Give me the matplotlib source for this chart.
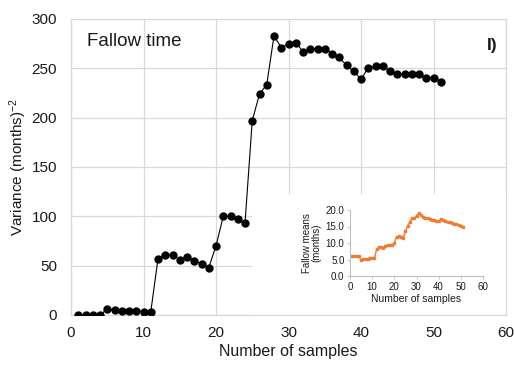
import matplotlib
matplotlib.use("Agg")
import matplotlib.pyplot as plt
from matplotlib.patches import Rectangle

plt.rcParams['font.family'] = ['Liberation Sans', 'DejaVu Sans']
plt.rcParams['mathtext.fontset'] = 'custom'
plt.rcParams['mathtext.rm'] = 'Liberation Sans'
plt.rcParams['mathtext.default'] = 'regular'

# Variance of fallow time as samples accumulate
samples = list(range(1, 52))
variance = [0, 0, 0, 0, 6, 5, 4.4, 4.4, 4.4, 3.4, 3,
            57, 61, 61, 56, 59, 55, 52, 48,
            70, 100, 100, 97.6, 93,
            197, 224, 233.5, 283, 271, 274.5, 276,
            267, 269.5, 270, 270, 265, 261, 253, 247, 239,
            250.5, 252, 252, 247.5, 244, 244, 244, 244, 240.5, 240.5, 236.5]

# Running mean of fallow time (inset)
fallow_means = [6.0, 6.0, 6.0, 6.0, 4.85, 5.05, 5.25, 5.25, 5.45, 5.45, 5.45,
                8.1, 8.7, 8.7, 8.4, 9.2, 9.3, 9.3, 9.3,
                10.1, 11.9, 12.0, 11.7, 11.4,
                13.6, 15.2, 16.5, 17.5, 17.5, 18.3, 19.0,
                18.5, 17.9, 17.7, 17.5, 17.3, 17.1, 16.9, 16.8, 16.6,
                17.3, 16.9, 16.7, 16.5, 16.3, 16.1, 15.9, 15.7, 15.4, 15.1, 14.7]

x_ticks = [0, 10, 20, 30, 40, 50, 60]
y_ticks = [0, 50, 100, 150, 200, 250, 300]
inset_y_ticks = [0.0, 5.0, 10.0, 15.0, 20.0]

grid_col = '#D9D9D9'
text_col = '#1a1a1a'

fig = plt.figure(figsize=(5.14, 3.66), dpi=100)
ax = fig.add_axes([71/514, 1 - 315/366, 435/514, 296/366])

ax.plot(samples, variance, color='black', lw=0.8, marker='o',
        markersize=5.0, zorder=3)
ax.set_xlim(0, 60)
ax.set_ylim(0, 300)
ax.set_xticks(x_ticks)
ax.set_yticks(y_ticks)
ax.tick_params(length=0, labelsize=11, colors=text_col)
ax.tick_params(axis='y', pad=10)
ax.tick_params(axis='x', pad=8)
ax.set_axisbelow(True)
ax.grid(True, color=grid_col, lw=0.9)
for s in ax.spines.values():
    s.set_color(grid_col)
    s.set_linewidth(0.9)
ax.set_xlabel('Number of samples', fontsize=11.5, color=text_col, labelpad=3)
ax.set_ylabel('Variance (months)$^{-2}$', fontsize=11, color=text_col,
              labelpad=2)
ax.text(0.036, 0.925, 'Fallow time', transform=ax.transAxes, fontsize=13.5,
        color=text_col, va='center', ha='left')
ax.text(0.955, 0.91, 'I)', transform=ax.transAxes, fontsize=12.5,
        fontweight='bold', color=text_col, va='center', ha='left')

# white panel that hosts the inset
ax.add_patch(Rectangle(((252 - 71) / 435, 0), 1 - (252 - 71) / 435,
                       (315 - 194) / 296, transform=ax.transAxes,
                       facecolor='white', edgecolor='none', zorder=1.5))

ins = fig.add_axes([350/514, 1 - 276/366, 133/514, 66/366])
ins.patch.set_alpha(0)
ins.plot(samples, fallow_means, color='#ED7D31', lw=1.0, marker='s',
         markersize=1.6)
ins.set_xlim(0, 60)
ins.set_ylim(0, 20)
ins.set_xticks(x_ticks)
ins.set_yticks(inset_y_ticks)
ins.set_yticklabels([f'{v:.1f}' for v in inset_y_ticks])
ins.tick_params(labelsize=7, colors=text_col, length=2, width=0.6,
                pad=2, color='#BFBFBF')
for side in ('top', 'right'):
    ins.spines[side].set_visible(False)
for side in ('left', 'bottom'):
    ins.spines[side].set_color('#BFBFBF')
    ins.spines[side].set_linewidth(0.8)
ins.set_xlabel('Number of samples', fontsize=7.5, color=text_col, labelpad=2)
ins.set_ylabel('Fallow means\n(months)', fontsize=7, color=text_col,
               labelpad=3, linespacing=1.0)

fig.savefig('out.png', dpi=100)
